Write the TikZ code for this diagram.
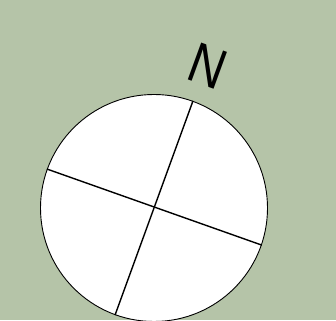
\documentclass[tikz,border=0pt]{standalone}
\usepackage{fontspec}
\setmainfont{Liberation Sans}
\definecolor{sage}{RGB}{181,196,168}

\begin{document}
\begin{tikzpicture}[x=1pt,y=1pt]
    \fill[sage] (0,0) rectangle (336,320);
    \useasboundingbox (0,0) rectangle (336,320);
    \clip (0,0) rectangle (336,320);
    \node[draw,circle,fill=white,line width=0.9pt,inner sep=0pt,minimum size=227pt] (dial) at (154,112) {};
    \draw[line width=1.4pt] (dial.70.4) -- (dial.250.4);
    \draw[line width=1.4pt] (dial.160.4) -- (dial.-19.6);
    \node[rotate=-20,inner sep=0pt] (north) at (208,254) {\scalebox{0.86}[1]{\fontsize{57}{57}\selectfont N}};
\end{tikzpicture}
\end{document}
